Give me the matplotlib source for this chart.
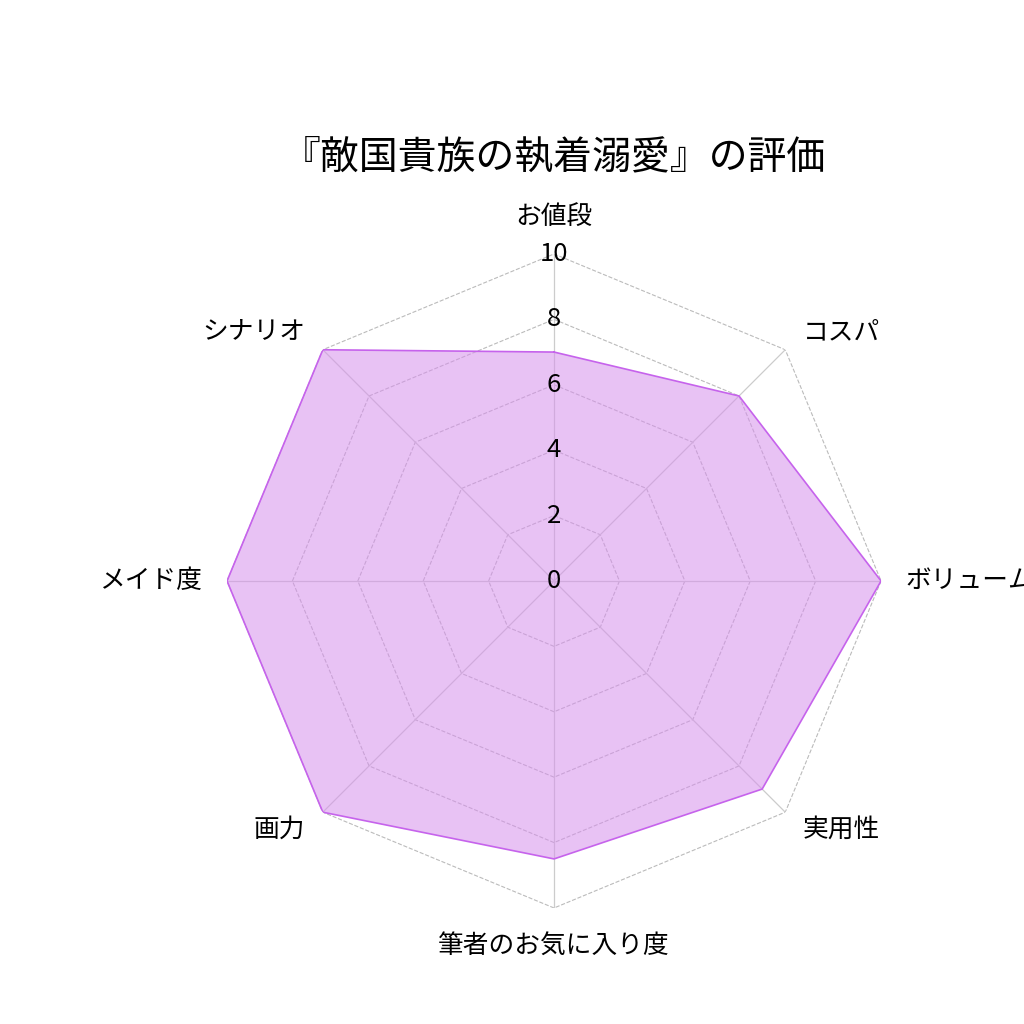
import numpy as np
import matplotlib.pyplot as plt

plt.rcParams['font.family'] = ['Noto Sans CJK JP', 'DejaVu Sans']

title = "『敵国貴族の執着溺愛』の評価"
categories = ["お値段", "コスパ", "ボリューム", "実用性",
              "筆者のお気に入り度", "画力", "メイド度", "シナリオ"]
values = [7, 8, 10, 9, 8.5, 10, 10, 10]
ticks = [0, 2, 4, 6, 8, 10]

n = len(categories)
angles = np.linspace(0, 2 * np.pi, n, endpoint=False)
closed_ang = np.append(angles, angles[0])
closed_val = np.append(values, values[0])

fig = plt.figure(figsize=(10.24, 10.24), dpi=100)
ax = fig.add_axes([0.2217, 0.1133, 0.6387, 0.6387], projection='polar')
ax.set_theta_zero_location('N')
ax.set_theta_direction(-1)
ax.set_ylim(0, 10)
ax.grid(False)
ax.spines['polar'].set_visible(False)
ax.set_xticks([])
ax.set_yticks([])

# polygon rings
for t in ticks[1:]:
    ax.plot(closed_ang, [t] * (n + 1), color='#bbbbbb', lw=0.8, ls='--', zorder=1)
# spokes
for a in angles:
    ax.plot([a, a], [0, 10], color='#cccccc', lw=0.9, zorder=1)

ax.fill(closed_ang, closed_val, color='#d690ec', alpha=0.55, zorder=2, lw=0)
ax.plot(closed_ang, closed_val, color='#c663ec', lw=1.2, zorder=3)

for t in ticks:
    ax.text(0, t, str(t), ha='center', va='center', fontsize=18.5, zorder=5)

r_lab = 10.75
for a, lab in zip(angles, categories):
    s, c = np.sin(a), np.cos(a)
    if abs(s) < 1e-6:
        ha = 'center'
    elif s > 0:
        ha = 'left'
    else:
        ha = 'right'
    if abs(c) < 1e-6 or abs(s) > 0.5:
        va = 'center'
    elif c > 0:
        va = 'bottom'
    else:
        va = 'top'
    ax.text(a, r_lab, lab, ha=ha, va=va, fontsize=18.5, clip_on=False)

fig.text(0.5405, 1 - 157 / 1024, title, ha='center', va='center', fontsize=28)

fig.savefig('out.png', dpi=100)
